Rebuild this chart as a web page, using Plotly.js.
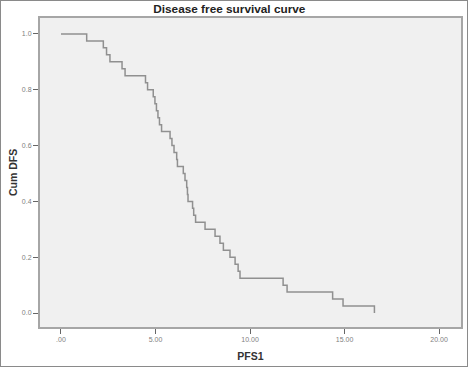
<!DOCTYPE html>
<html>
<head>
<meta charset="utf-8">
<script src="https://cdn.plot.ly/plotly-3.0.1.min.js"></script>
<style>
html,body{margin:0;padding:0;background:#fff;}
#wrap{position:relative;width:468px;height:367px;}
#chart{position:absolute;left:0;top:0;width:468px;height:367px;}
#frame{position:absolute;left:0;top:0;width:466px;height:365px;border:1px solid #8a8a8a;pointer-events:none;}
</style>
</head>
<body>
<div id="wrap"><div id="chart"></div><div id="frame"></div></div>
<script>
// Kaplan-Meier step points
const timePoints = [0, 1.36, 2.24, 2.41, 2.59, 3.23, 3.39, 4.47, 4.58, 4.88, 4.97,
  5.05, 5.13, 5.21, 5.32, 5.77, 5.87, 5.98, 6.12, 6.16, 6.47,
  6.56, 6.65, 6.69, 6.72, 6.96, 7.02, 7.12, 7.62, 8.15, 8.41,
  8.59, 8.94, 9.21, 9.37, 9.47, 11.75, 11.96, 14.37, 14.92, 16.58];
const cumDFS = [1.0, 0.975, 0.95, 0.925, 0.9, 0.875, 0.85, 0.825, 0.8, 0.775, 0.75,
  0.725, 0.7, 0.675, 0.65, 0.625, 0.6, 0.575, 0.55, 0.525, 0.5,
  0.475, 0.45, 0.425, 0.4, 0.375, 0.35, 0.325, 0.3, 0.275, 0.25,
  0.225, 0.2, 0.175, 0.15, 0.125, 0.1, 0.075, 0.05, 0.025, 0.0];
const xTickVals = [0, 5, 10, 15, 20];
const xTickText = [".00", "5.00", "10.00", "15.00", "20.00"];
const yTickVals = [0, 0.2, 0.4, 0.6, 0.8, 1.0];
const yTickText = ["0.0", "0.2", "0.4", "0.6", "0.8", "1.0"];

const trace = {
  x: timePoints, y: cumDFS, type: 'scatter', mode: 'lines',
  line: {shape: 'hv', color: '#909090', width: 1.5},
  hoverinfo: 'skip', showlegend: false
};
const layout = {
  width: 468, height: 367,
  margin: {l: 40, r: 7, t: 18, b: 40, pad: 0},
  paper_bgcolor: '#ffffff', plot_bgcolor: '#f0f0f0',
  font: {family: 'Liberation Sans, Arial, sans-serif', color: '#333'},
  title: {text: '<b>Disease free survival curve</b>', x: 0.49, xanchor: 'center', y: 0.976, yanchor: 'middle',
    font: {size: 11.8, color: '#222'}},
  xaxis: {
    range: [-1.11, 21.16], tickvals: xTickVals, ticktext: xTickText,
    ticks: 'outside', ticklen: 5, tickwidth: 1, tickcolor: '#666',
    tickfont: {size: 7, color: '#808080'},
    showgrid: false, zeroline: false,
    showline: true, mirror: true, linecolor: '#a6a6a6', linewidth: 2,
    title: {text: '<b>PFS1</b>', font: {size: 10.5, color: '#333'}, standoff: 10}
  },
  yaxis: {
    range: [-0.05, 1.057], tickvals: yTickVals, ticktext: yTickText,
    ticks: 'outside', ticklen: 5, tickwidth: 1, tickcolor: '#666',
    tickfont: {size: 7, color: '#808080'},
    showgrid: false, zeroline: false,
    showline: true, mirror: true, linecolor: '#a6a6a6', linewidth: 2,
    title: {text: '<b>Cum DFS</b>', font: {size: 10.5, color: '#333'}, standoff: 2}
  }
};
Plotly.newPlot('chart', [trace], layout, {staticPlot: true, displayModeBar: false});
</script>
</body>
</html>
